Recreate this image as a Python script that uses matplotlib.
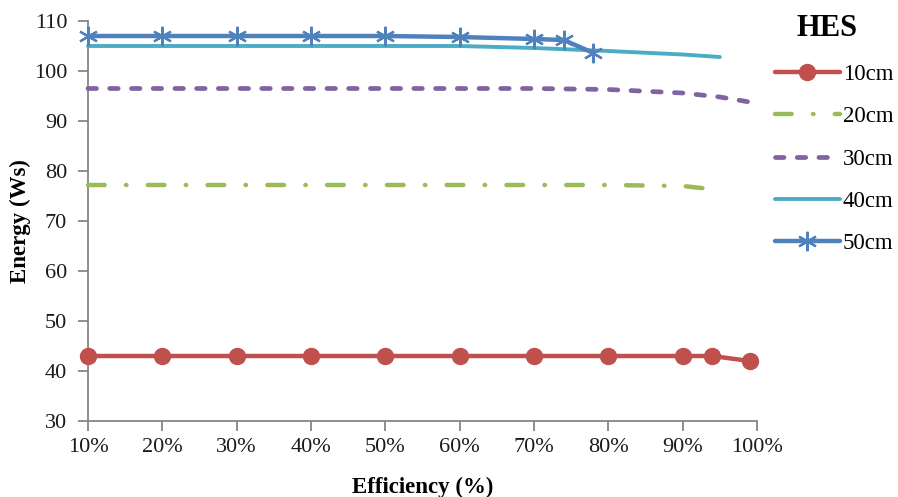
import matplotlib
matplotlib.use("Agg")
import matplotlib.pyplot as plt
from matplotlib.ticker import FuncFormatter

# Efficiency (%) and energy (Ws) per HES distance
eff_10 = [10, 20, 30, 40, 50, 60, 70, 80, 90, 94, 99]
energy_10 = [43, 43, 43, 43, 43, 43, 43, 43, 43, 43, 42]

eff_20 = [10, 20, 30, 40, 50, 60, 70, 80, 90, 95]
energy_20 = [77.2, 77.2, 77.2, 77.2, 77.2, 77.2, 77.2, 77.2, 77.0, 76.2]

eff_30 = [10, 20, 30, 40, 50, 60, 70, 80, 90, 95, 99]
energy_30 = [96.5, 96.5, 96.5, 96.5, 96.5, 96.5, 96.5, 96.3, 95.6, 94.8, 93.8]

eff_40 = [10, 20, 30, 40, 50, 60, 70, 80, 90, 95]
energy_40 = [105, 105, 105, 105, 105, 105, 104.6, 104.0, 103.3, 102.8]

eff_50 = [10, 20, 30, 40, 50, 60, 70, 74, 78]
energy_50 = [107, 107, 107, 107, 107, 106.8, 106.4, 106.2, 103.6]

labels = ["10cm", "20cm", "30cm", "40cm", "50cm"]
x_ticks = [10, 20, 30, 40, 50, 60, 70, 80, 90, 100]
y_ticks = [30, 40, 50, 60, 70, 80, 90, 100, 110]

plt.rcParams["font.family"] = ["Liberation Serif", "DejaVu Serif"]

fig = plt.figure(figsize=(8.98, 4.97), dpi=100)
ax = fig.add_axes([88 / 898, 1 - 421 / 497, (757 - 88) / 898, (421 - 21) / 497])

red, green, purple, cyan, blue = "#C0504D", "#9BBB59", "#8064A2", "#4BACC6", "#4F81BD"

l10, = ax.plot(eff_10, energy_10, color=red, lw=3.2, marker="o", ms=11.5,
               solid_capstyle="round", clip_on=False, zorder=3)
l20, = ax.plot(eff_20, energy_20, color=green, lw=3.2, dash_capstyle="round",
               clip_on=False, zorder=3)
l20.set_dashes([3.75, 4.8, 0.1, 4.8])
l30, = ax.plot(eff_30, energy_30, color=purple, lw=3.4, dash_capstyle="round",
               clip_on=False, zorder=3)
l30.set_dashes([1.8, 2.8])
l40, = ax.plot(eff_40, energy_40, color=cyan, lw=2.8, solid_capstyle="round",
               clip_on=False, zorder=3)
l50, = ax.plot(eff_50, energy_50, color=blue, lw=3.2, marker=(6, 2, 0), ms=14,
               mew=1.6, mec=blue, solid_capstyle="round", clip_on=False, zorder=4)

ax.set_xlim(10, 100)
ax.set_ylim(30, 110)
ax.set_xticks(x_ticks)
ax.set_yticks(y_ticks)
ax.xaxis.set_major_formatter(FuncFormatter(lambda v, p: f"{v:.0f}%"))

for side in ("top", "right"):
    ax.spines[side].set_visible(False)
for side in ("left", "bottom"):
    ax.spines[side].set_color("#868686")
    ax.spines[side].set_linewidth(1.3)
ax.tick_params(axis="both", direction="out", length=7, width=1.3, color="#868686",
               labelsize=16, labelcolor="#1a1a1a")
ax.tick_params(axis="x", pad=5)
ax.tick_params(axis="y", pad=8)

ax.set_xlabel("Efficiency (%)", fontsize=16.5, fontweight="bold")
ax.set_ylabel("Energy (Ws)", fontsize=16.5, fontweight="bold")
ax.xaxis.set_label_coords(0.5, (421 - 487) / 400, transform=ax.transAxes)
ax.xaxis.label.set_va("center")
ax.yaxis.set_label_coords((20 - 88) / 669, 0.5, transform=ax.transAxes)
ax.yaxis.label.set_va("center")

leg = fig.legend([l10, l20, l30, l40, l50], labels, loc="upper left",
                 bbox_to_anchor=(770 / 898, 1 - 9 / 497), frameon=False,
                 fontsize=16.5, handlelength=2.85, handletextpad=0.13,
                 labelspacing=0.93, borderaxespad=0.0, borderpad=0.2,
                 title="HES", title_fontproperties={"weight": "bold", "size": 22})
leg._legend_box.align = "center"
# nudge the legend title a little to the left of the column centre
leg.get_title().set_x(-7)

fig.savefig("out.png", dpi=100)
